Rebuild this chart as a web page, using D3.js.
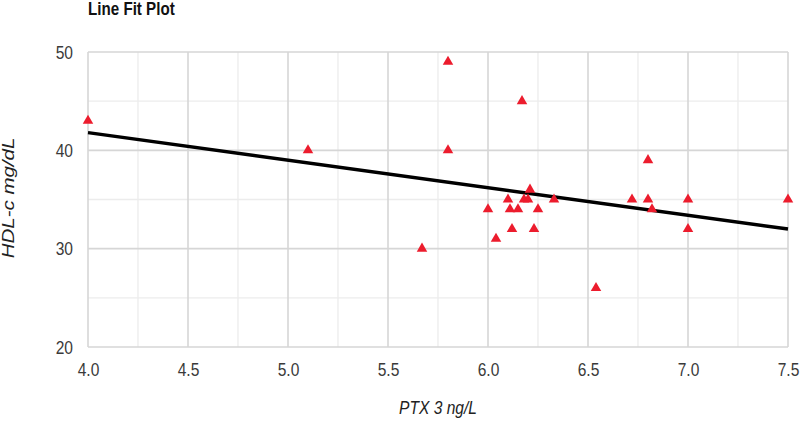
<!DOCTYPE html>
<html>
<head>
<meta charset="utf-8">
<script src="https://cdn.jsdelivr.net/npm/d3@7"></script>
<style>
  html, body { margin: 0; padding: 0; background: #fff; }
  svg { display: block; }
  text { font-family: "Liberation Sans", Arial, sans-serif; }
</style>
</head>
<body>
<svg id="chart" width="800" height="423"></svg>
<script>
// ---- data ----
const ptx = [4.0, 5.1, 5.8, 5.8, 5.67, 6.17, 6.0, 6.04, 6.1, 6.11, 6.12, 6.15, 6.18, 6.2, 6.21, 6.23, 6.25, 6.33, 6.54, 6.72, 6.8, 6.8, 6.82, 7.0, 7.0, 7.5];
const hdl = [43, 40, 49, 40, 30, 45, 34, 31, 35, 34, 32, 34, 35, 35, 36, 32, 34, 35, 26, 35, 35, 39, 34, 35, 32, 35];
const fitX = [4.0, 7.5];
const fitY = [41.8, 32.0];
const xTicks = [4.0, 4.5, 5.0, 5.5, 6.0, 6.5, 7.0, 7.5];
const yTicks = [20, 30, 40, 50];
const xMinor = [4.25, 4.75, 5.25, 5.75, 6.25, 6.75, 7.25];
const yMinor = [25, 35, 45];
const titleText = "Line Fit Plot";
const xTitle = "PTX 3 ng/L";
const yTitle = "HDL-c mg/dL";

// ---- layout ----
const W = 800, H = 423;
const m = { top: 52, right: 12, bottom: 76, left: 88 };
const SX = 0.82; // horizontal squeeze of the reference's lettering
const svg = d3.select("#chart");
const x = d3.scaleLinear().domain([4.0, 7.5]).range([m.left, W - m.right]);
const y = d3.scaleLinear().domain([20, 50]).range([H - m.bottom, m.top]);

const grid = svg.append("g");
grid.selectAll(".vminor").data(xMinor).join("line")
  .attr("x1", d => x(d)).attr("x2", d => x(d))
  .attr("y1", y(20)).attr("y2", y(50))
  .attr("stroke", "#ececec").attr("stroke-width", 1.3);
grid.selectAll(".hminor").data(yMinor).join("line")
  .attr("x1", x(4.0)).attr("x2", x(7.5))
  .attr("y1", d => y(d)).attr("y2", d => y(d))
  .attr("stroke", "#ececec").attr("stroke-width", 1.3);
grid.selectAll(".vmajor").data(xTicks).join("line")
  .attr("x1", d => x(d)).attr("x2", d => x(d))
  .attr("y1", y(20)).attr("y2", y(50))
  .attr("stroke", "#d6d6d6").attr("stroke-width", 1.6);
grid.selectAll(".hmajor").data(yTicks).join("line")
  .attr("x1", x(4.0)).attr("x2", x(7.5))
  .attr("y1", d => y(d)).attr("y2", d => y(d))
  .attr("stroke", "#d6d6d6").attr("stroke-width", 1.6);

// axes
const xAxis = svg.append("g")
  .attr("transform", `translate(0,${H - m.bottom})`)
  .call(d3.axisBottom(x).tickValues(xTicks).tickFormat(d3.format(".1f")).tickSize(0).tickPadding(16));
const yAxis = svg.append("g")
  .attr("transform", `translate(${m.left},0)`)
  .call(d3.axisLeft(y).tickValues(yTicks).tickFormat(d3.format("d")).tickSize(0).tickPadding(15));
[xAxis, yAxis].forEach(a => {
  a.select(".domain").remove();
  a.selectAll("text").attr("font-size", 19).attr("fill", "#3a3a3a")
    .attr("transform", `scale(${SX},1)`);
});
yAxis.selectAll("text").attr("x", -15 / SX);

// fit line
const line = d3.line().x(d => x(d[0])).y(d => y(d[1]));
svg.append("path")
  .datum(fitX.map((v, i) => [v, fitY[i]]))
  .attr("d", line)
  .attr("fill", "none").attr("stroke", "#000").attr("stroke-width", 3.5);

// points
const tri = d3.symbol().type(d3.symbolTriangle).size(48);
svg.append("g").selectAll("path").data(ptx.map((v, i) => [v, hdl[i]])).join("path")
  .attr("d", tri)
  .attr("transform", d => `translate(${x(d[0])},${y(d[1])})`)
  .attr("fill", "#ec1c2d");

// titles
svg.append("text")
  .attr("transform", `translate(88,15) scale(${SX},1)`)
  .attr("font-size", 18.5).attr("font-weight", "bold").attr("fill", "#111")
  .text(titleText);
svg.append("text")
  .attr("transform", `translate(438,414) scale(${SX},1)`)
  .attr("text-anchor", "middle")
  .attr("font-size", 19).attr("font-style", "italic").attr("fill", "#222")
  .text(xTitle);
svg.append("text")
  .attr("transform", `translate(14,198) scale(${SX},1) rotate(-90)`)
  .attr("text-anchor", "middle")
  .attr("font-size", 20.5).attr("font-style", "italic").attr("fill", "#222")
  .text(yTitle);
</script>
</body>
</html>
